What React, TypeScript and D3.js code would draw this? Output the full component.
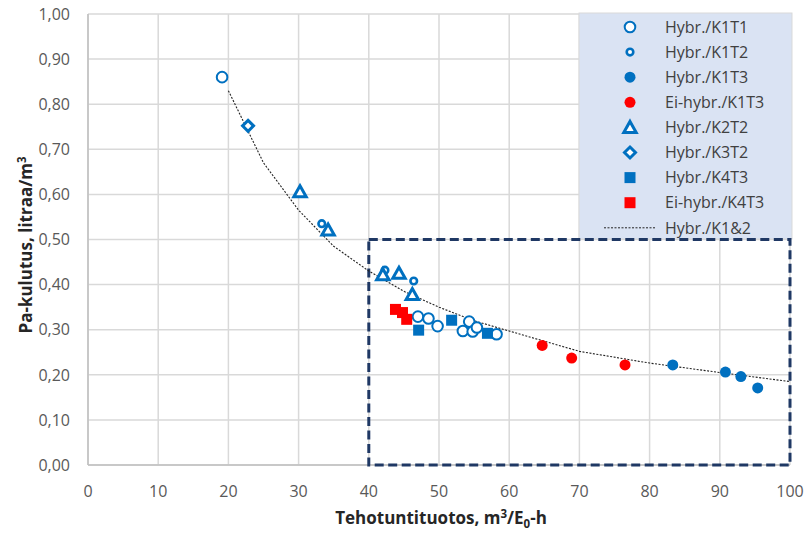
import * as d3 from "d3";

// scatter series, [x, y]
const hybrK1T1 = [[19.1, 0.86], [47.0, 0.329], [48.5, 0.325], [49.8, 0.308], [54.3, 0.318], [53.4, 0.297], [54.8, 0.296], [55.4, 0.305], [58.2, 0.29]];
const hybrK1T2 = [[33.3, 0.535], [42.3, 0.432], [46.4, 0.408]];
const hybrK1T3 = [[83.3, 0.222], [90.8, 0.206], [93.0, 0.196], [95.4, 0.171]];
const eiHybrK1T3 = [[64.7, 0.265], [68.9, 0.237], [76.5, 0.222]];
const hybrK2T2 = [[30.2, 0.606], [34.2, 0.521], [42.0, 0.422], [44.3, 0.425], [46.2, 0.378]];
const hybrK3T2 = [[22.8, 0.752]];
const hybrK4T3 = [[47.1, 0.299], [51.8, 0.321], [56.9, 0.292]];
const eiHybrK4T3 = [[43.8, 0.345], [44.8, 0.338], [45.4, 0.323]];
// trend line
const trendX = [20, 25, 30, 35, 40, 45, 50, 55, 60, 70, 80, 90, 100];
const trendY = [0.83, 0.67, 0.565, 0.485, 0.43, 0.385, 0.35, 0.32, 0.297, 0.252, 0.226, 0.205, 0.185];

const xTicks = [0, 10, 20, 30, 40, 50, 60, 70, 80, 90, 100];
const yTicks = [0, 0.1, 0.2, 0.3, 0.4, 0.5, 0.6, 0.7, 0.8, 0.9, 1.0];
const zoomBox = { x0: 40, x1: 100, y0: 0, y1: 0.5 };

const legendLabels = ["Hybr./K1T1", "Hybr./K1T2", "Hybr./K1T3", "Ei-hybr./K1T3", "Hybr./K2T2", "Hybr./K3T2", "Hybr./K4T3", "Ei-hybr./K4T3", "Hybr./K1&2"];

const BLUE = "#0070c0";
const RED = "#ff0000";
const FONT = "'Open Sans', Lato, sans-serif";

type Kind = "openBig" | "openSmall" | "dot" | "tri" | "diamond" | "square" | "line";

const Marker = ({ kind, x, y, color }: { kind: Kind; x: number; y: number; color: string }) => {
  switch (kind) {
    case "openBig":
      return <circle cx={x} cy={y} r={5.3} fill="white" stroke={color} strokeWidth={2} />;
    case "openSmall":
      return <circle cx={x} cy={y} r={3.3} fill="white" stroke={color} strokeWidth={2.6} />;
    case "dot":
      return <circle cx={x} cy={y} r={5.5} fill={color} />;
    case "tri":
      return <path d={`M${x},${y - 6} L${x + 6.2},${y + 5} L${x - 6.2},${y + 5}Z`} fill="white" stroke={color} strokeWidth={3} strokeLinejoin="miter" />;
    case "diamond":
      return <path d={`M${x},${y - 5.5} L${x + 5.5},${y} L${x},${y + 5.5} L${x - 5.5},${y}Z`} fill="white" stroke={color} strokeWidth={3} />;
    case "square":
      return <rect x={x - 5.5} y={y - 5.5} width={11} height={11} fill={color} />;
    default:
      return <line x1={x - 26} x2={x + 26} y1={y} y2={y} stroke="#222" strokeWidth={1} strokeDasharray="2,1.5" />;
  }
};

export default function App() {
  const x = d3.scaleLinear().domain([0, 100]).range([88, 790]);
  const y = d3.scaleLinear().domain([0, 1]).range([465, 14]);

  const series: { data: number[][]; kind: Kind; color: string }[] = [
    { data: hybrK1T1, kind: "openBig", color: BLUE },
    { data: hybrK1T2, kind: "openSmall", color: BLUE },
    { data: hybrK1T3, kind: "dot", color: BLUE },
    { data: eiHybrK1T3, kind: "dot", color: RED },
    { data: hybrK2T2, kind: "tri", color: BLUE },
    { data: hybrK3T2, kind: "diamond", color: BLUE },
    { data: hybrK4T3, kind: "square", color: BLUE },
    { data: eiHybrK4T3, kind: "square", color: RED },
  ];
  const legendKinds: { kind: Kind; color: string }[] = [...series.map((s) => ({ kind: s.kind, color: s.color })), { kind: "line", color: "#222" }];

  const trend = d3
    .line<number>()
    .x((d) => x(d))
    .y((_, i) => y(trendY[i]))(trendX);

  return (
    <svg width={807} height={534} style={{ position: "absolute", left: 0, top: 0, background: "white" }} fontFamily={FONT}>
      {/* gridlines */}
      {yTicks.map((t) => (
        <line key={"gy" + t} x1={x(0)} x2={x(100)} y1={y(t)} y2={y(t)} stroke="#d9d9d9" strokeWidth={1.5} />
      ))}
      {xTicks.map((t) => (
        <line key={"gx" + t} x1={x(t)} x2={x(t)} y1={y(0)} y2={y(1)} stroke="#d9d9d9" strokeWidth={1.5} />
      ))}
      <line x1={x(0)} x2={x(0)} y1={y(0)} y2={y(1)} stroke="#bfbfbf" strokeWidth={1.5} />
      <line x1={x(0)} x2={x(100)} y1={y(0)} y2={y(0)} stroke="#bfbfbf" strokeWidth={1.5} />

      {/* tick labels */}
      {yTicks.map((t) => (
        <text key={"ty" + t} x={70} y={y(t)} dy="0.36em" textAnchor="end" fontSize={16} fill="#595959">
          {d3.format(".2f")(t).replace(".", ",")}
        </text>
      ))}
      {xTicks.map((t) => (
        <text key={"tx" + t} x={x(t)} y={491} dy="0.36em" textAnchor="middle" fontSize={16} fill="#595959">
          {t}
        </text>
      ))}

      {/* axis titles */}
      <text x={441} y={524} textAnchor="middle" fontSize={17} fontWeight="bold" fill="#262626">
        Tehotuntituotos, m<tspan dy={-6} fontSize={11.5}>3</tspan>
        <tspan dy={6}>/E</tspan>
        <tspan dy={4} fontSize={11.5}>0</tspan>
        <tspan dy={-4}>-h</tspan>
      </text>
      <text transform="translate(32,245) rotate(-90)" textAnchor="middle" fontSize={17} fontWeight="bold" fill="#262626">
        Pa-kulutus, litraa/m<tspan dy={-6} fontSize={11.5}>3</tspan>
      </text>

      {/* legend */}
      <rect x={579} y={13} width={213} height={226} fill="#dae3f3" stroke="#d9d9d9" strokeWidth={1} />
      {legendLabels.map((l, i) => (
        <g key={l}>
          <Marker kind={legendKinds[i].kind} color={legendKinds[i].color} x={630} y={27 + i * 25.1} />
          <text x={665} y={27 + i * 25.1} dy="0.36em" fontSize={16} fill="#404040">
            {l}
          </text>
        </g>
      ))}

      {/* zoom rectangle */}
      <rect
        x={x(zoomBox.x0)}
        y={y(zoomBox.y1)}
        width={x(zoomBox.x1) - x(zoomBox.x0)}
        height={y(zoomBox.y0) - y(zoomBox.y1)}
        fill="none"
        stroke="#1f3864"
        strokeWidth={3}
        strokeDasharray="9,4.5"
      />

      {/* trend line */}
      <path d={trend ?? ""} fill="none" stroke="#222" strokeWidth={1.1} strokeDasharray="2,1.5" />

      {/* points */}
      {series.map((s, si) =>
        s.data.map((d, i) => <Marker key={si + "-" + i} kind={s.kind} color={s.color} x={x(d[0])} y={y(d[1])} />)
      )}
    </svg>
  );
}
